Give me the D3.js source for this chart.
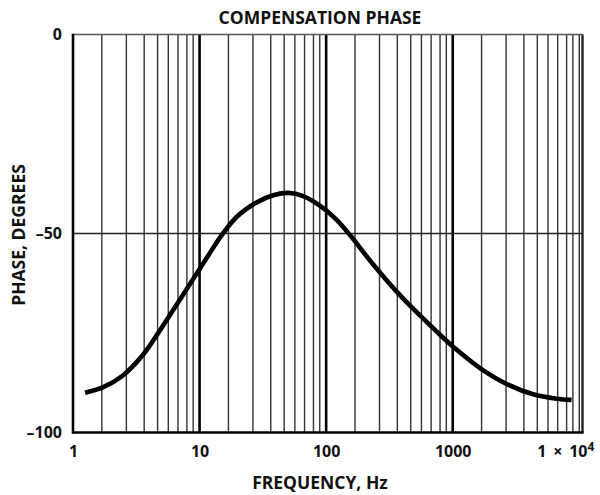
<!DOCTYPE html>
<html>
<head>
<meta charset="utf-8">
<script src="https://cdn.jsdelivr.net/npm/d3@7"></script>
<style>
  body { margin: 0; background: #fff; }
  svg text { font-family: 'Open Sans', Lato, sans-serif; font-weight: 700; fill: #111; }
  .axis path, .axis line { display: none; }
</style>
</head>
<body>
<svg id="chart" width="600" height="495"></svg>
<script>
// values
const decades = [1, 10, 100, 1000, 10000]
const minorSteps = [1.69, 2.64, 3.65, 4.66, 5.66, 6.75, 7.94, 8.9]
const phaseTicks = [0, -50, -100]
const freq = [1.245, 1.734, 2.495, 3.589, 4.581, 5.834, 7.43, 9.44, 11.89, 14.96, 19.95, 28.18, 38.19, 50.23, 65.92, 94.84, 121.1, 154.2, 235.5, 360.6, 550.8, 841.4, 1074, 1641, 2667, 4325, 6622, 8690]
const phase = [-90.0, -88.6, -85.6, -80.4, -75.6, -70.5, -65.3, -60.2, -55.2, -50.4, -45.6, -42.2, -40.4, -39.8, -40.6, -43.6, -46.6, -50.4, -57.8, -64.6, -70.6, -76.2, -79.2, -83.8, -87.8, -90.4, -91.5, -91.8]

const margin = { top: 34.5, left: 73, bottom: 62.5, right: 17.5 }
const svg = d3.select('#chart')
const width = +svg.attr('width') - margin.left - margin.right
const height = +svg.attr('height') - margin.top - margin.bottom

const x = d3.scaleLog().domain([1, 10600]).range([0, width])
const y = d3.scaleLinear().domain([-100, 0]).range([height, 0])

const g = svg.append('g').attr('transform', `translate(${margin.left},${margin.top})`)

// grid: minor lines inside each decade, then the decade lines
const minor = []
decades.slice(0, -1).forEach(d => minorSteps.forEach(s => minor.push(d * s)))
g.selectAll('.minor').data(minor.concat([10000])).enter().append('line')
  .attr('x1', d => x(d)).attr('x2', d => x(d))
  .attr('y1', 0).attr('y2', height)
  .attr('stroke', '#333').attr('stroke-width', 1.4)
g.selectAll('.major').data(decades.slice(1, -1)).enter().append('line')
  .attr('x1', d => x(d)).attr('x2', d => x(d))
  .attr('y1', 0).attr('y2', height)
  .attr('stroke', '#000').attr('stroke-width', 2.6)
g.append('line')
  .attr('x1', 0).attr('x2', width)
  .attr('y1', y(-50)).attr('y2', y(-50))
  .attr('stroke', '#222').attr('stroke-width', 1.3)

// frame
g.append('line').attr('x1', 0).attr('x2', width).attr('y1', 0).attr('y2', 0)
  .attr('stroke', '#555').attr('stroke-width', 1.6)
g.append('line').attr('x1', width).attr('x2', width).attr('y1', 0).attr('y2', height)
  .attr('stroke', '#222').attr('stroke-width', 2.4)
g.append('line').attr('x1', 0).attr('x2', 0).attr('y1', -0.8).attr('y2', height + 1.3)
  .attr('stroke', '#000').attr('stroke-width', 2.6)
g.append('line').attr('x1', 0).attr('x2', width + 1.2).attr('y1', height).attr('y2', height)
  .attr('stroke', '#000').attr('stroke-width', 2.6)

// curve
const line = d3.line()
  .x(d => x(d[0]))
  .y(d => y(d[1]))
  .curve(d3.curveCatmullRom.alpha(0.5))
g.append('path')
  .datum(freq.map((f, i) => [f, phase[i]]))
  .attr('d', line)
  .attr('fill', 'none')
  .attr('stroke', '#000')
  .attr('stroke-width', 4.6)
  .attr('stroke-linejoin', 'round')

// axes (labels only)
const xAxis = g.append('g').attr('class', 'axis')
  .attr('transform', `translate(0,${height})`)
  .call(d3.axisBottom(x).tickValues(decades).tickSize(0).tickPadding(13).tickFormat(d => d === 10000 ? '' : d))
xAxis.selectAll('text').style('font-size', '16px')
xAxis.selectAll('.tick').filter(d => d === 10000).select('text')
  .attr('text-anchor', 'end').attr('x', 14.5)
  .call(t => {
    t.append('tspan').text('1 \u2009\u00d7\u2009 10')
    t.append('tspan').text('4').attr('dy', '-0.45em').style('font-size', '12px')
  })

const yAxis = g.append('g').attr('class', 'axis')
  .call(d3.axisLeft(y).tickValues(phaseTicks).tickSize(0).tickPadding(11).tickFormat(d => d < 0 ? '\u2013' + Math.abs(d) : d))
yAxis.selectAll('text').style('font-size', '16px')

svg.append('text')
  .attr('x', 320).attr('y', 24)
  .attr('text-anchor', 'middle')
  .style('font-size', '17.5px')
  .text('COMPENSATION PHASE')

svg.append('text')
  .attr('x', 320).attr('y', 489)
  .attr('text-anchor', 'middle')
  .style('font-size', '17.5px')
  .text('FREQUENCY, Hz')

svg.append('text')
  .attr('transform', 'translate(25,235) rotate(-90)')
  .attr('text-anchor', 'middle')
  .style('font-size', '17.5px')
  .text('PHASE, DEGREES')
</script>
</body>
</html>
